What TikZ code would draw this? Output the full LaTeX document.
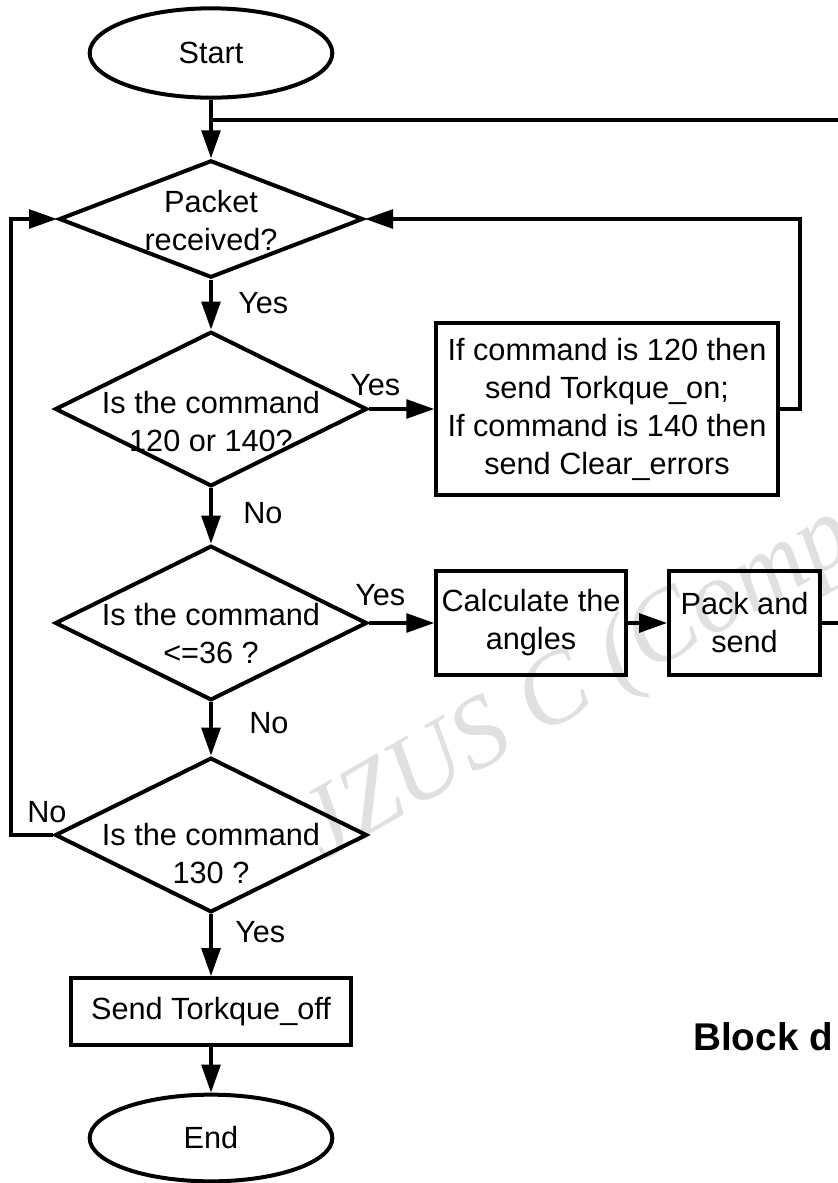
\documentclass[tikz,border=0pt]{standalone}
\usepackage{fontspec}
\setmainfont{Liberation Sans}
\newfontfamily\wmfont{Liberation Serif}
\usetikzlibrary{shapes.geometric,arrows.meta}
\newcommand{\dtext}[2][-14pt]{\makebox[0pt]{\smash{\raisebox{#1}{\begin{tabular}{@{}c@{}}#2\end{tabular}}}}}
\tikzset{
  base/.style={draw=black, line width=3pt, font=\fontsize{23}{28.5}\selectfont, align=center, inner sep=0pt},
  term/.style={base, ellipse, minimum width=182pt, minimum height=67pt},
  dec/.style={base, diamond, minimum width=234pt, minimum height=116pt},
  box/.style={base, rectangle},
  lbl/.style={font=\fontsize{23}{28.5}\selectfont, inner sep=0pt, anchor=west},
  ln/.style={line width=2.8pt, draw=black},
  arr/.style={ln, -{Triangle[length=21pt,width=14pt]}},
  wm/.style={font=\wmfont\itshape\fontsize{76}{80}\selectfont, text=black!12, inner sep=0pt}
}
\begin{document}
\begin{tikzpicture}[x=0.75pt,y=-0.75pt]
\useasboundingbox (0,0) rectangle (838,1183);
\clip (0,0) rectangle (838,1183);
\fill[white] (0,0) rectangle (838,1183);
% watermark
\node[wm, rotate=30, anchor=base west] (wmk) at (322,862) {JZUS C (Comp};
% nodes
\node[term] (start) at (211,53) {Start};
\node[dec, minimum width=228pt, minimum height=88pt] (d1) at (211,219) {\dtext[-10pt]{Packet\\received?}};
\node[dec] (d2) at (211,409) {\dtext[-18.5pt]{Is the command\\120 or 140?}};
\node[box, minimum width=256pt, minimum height=129pt] (b1) at (607,409) {If command is 120 then\\send Torkque\_on;\\If command is 140 then\\send Clear\_errors};
\node[dec] (d3) at (211,623) {\dtext[-17pt]{Is the command\\<=36 ?}};
\node[box, minimum width=142pt, minimum height=78pt] (b2) at (531,623) {Calculate the\\angles};
\node[box, minimum width=113pt, minimum height=78pt] (b3) at (744.5,623) {Pack and\\send};
\node[dec] (d4) at (211,835) {\dtext[-23pt]{Is the command\\130 ?}};
\node[box, minimum width=210pt, minimum height=50pt] (b4) at (211,1011.5) {Send Torkque\_off};
\node[term, minimum height=65pt] (end) at (211,1138) {End};
% labels
\node[lbl] (yes1) at (238,303) {Yes};
\node[lbl] (yes2) at (350,385) {Yes};
\node[lbl] (no2) at (243,513) {No};
\node[lbl] (yes3) at (355,595) {Yes};
\node[lbl] (no3) at (249,723) {No};
\node[lbl] (no4) at (27,812) {No};
\node[lbl] (yes4) at (235,932) {Yes};
\node[font=\bfseries\fontsize{29}{34}\selectfont, inner sep=0pt, anchor=base west] (title) at (693,1050) {Block d};
% coordinates
\coordinate (jn) at (211,120);
\coordinate (eR) at (838,120);
\coordinate (rl) at (800,409);
\coordinate (eR2) at (838,623);
\coordinate (ll) at (11,835);
% connectors
\draw[arr] (start.south) -- (d1.north);
\draw[ln] (jn) -- (eR);
\draw[arr] (d1.south) -- (d2.north);
\draw[arr] (d2.east) -- (b1.west);
\draw[arr] (b1.east) -- (rl) |- (d1.east);
\draw[arr] (d2.south) -- (d3.north);
\draw[arr] (d3.east) -- (b2.west);
\draw[arr] (b2.east) -- (b3.west);
\draw[ln] (b3.east) -- (eR2);
\draw[arr] (d3.south) -- (d4.north);
\draw[arr] (d4.west) -- (ll) |- (d1.west);
\draw[arr] (d4.south) -- (b4.north);
\draw[arr] (b4.south) -- (end.north);
\end{tikzpicture}
\end{document}
